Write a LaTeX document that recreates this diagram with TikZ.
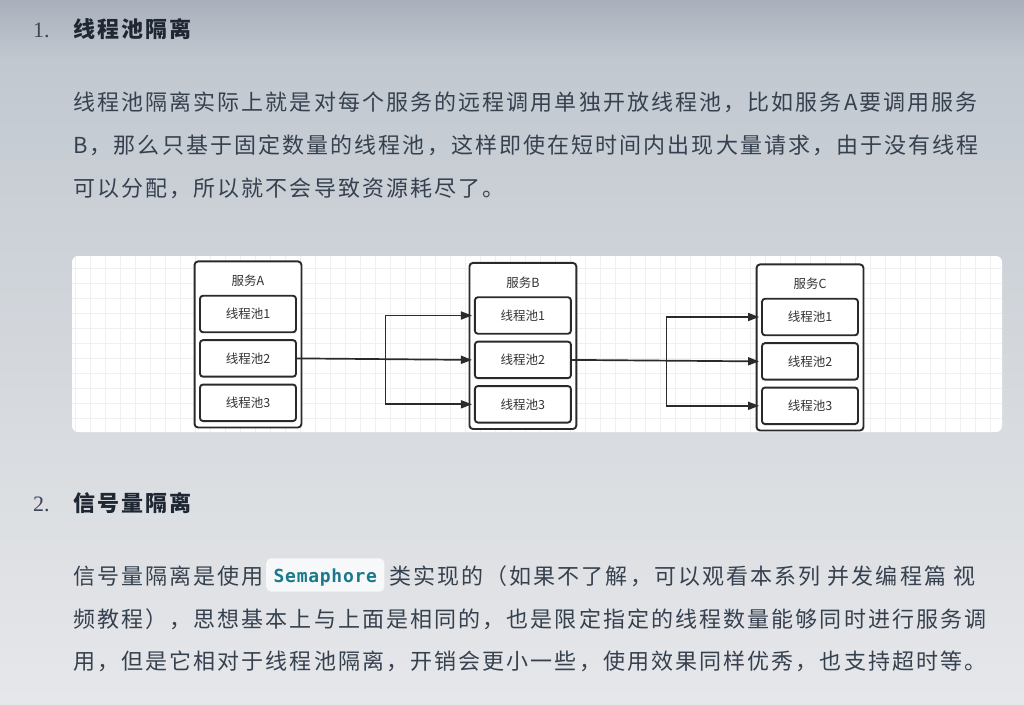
\documentclass[tikz,border=0pt]{standalone}
\usepackage{fontspec}
\setmainfont{Liberation Serif}
\newfontfamily\bodycjk[LetterSpace=9.5]{Noto Sans CJK SC}
\newfontfamily\labelcjk{Noto Sans CJK SC}
\newfontfamily\codefont[LetterSpace=4]{DejaVu Sans Mono}
\usepackage{tikz}
\usetikzlibrary{arrows.meta,positioning,fit,calc}

\definecolor{bgtop}{HTML}{A9B0BB}
\definecolor{bgupper}{HTML}{C2C8D0}
\definecolor{bgmid}{HTML}{CDD2D8}
\definecolor{bglow}{HTML}{D9DCE0}
\definecolor{bgbot}{HTML}{E6E7EA}
\definecolor{bodytext}{HTML}{36414F}
\definecolor{headtext}{HTML}{1F2733}
\definecolor{numtext}{HTML}{3C4654}
\definecolor{codebg}{HTML}{F6F8FA}
\definecolor{codetext}{HTML}{1A7A8C}
\definecolor{gridgray}{HTML}{F0F0F0}
\definecolor{boxline}{HTML}{2A2A2A}
\definecolor{labeltext}{HTML}{333333}

\pgfdeclarelayer{canvas}
\pgfdeclarelayer{frames}
\pgfsetlayers{canvas,frames,main}

\begin{document}
\begin{tikzpicture}[
x=1pt, y=-1pt,
pool/.style={draw=boxline, line width=1.9pt, rounded corners=3pt, fill=white,
  minimum width=96pt, minimum height=36.5pt, inner sep=0pt,
  font=\labelcjk\fontsize{12.5}{14}\selectfont, text=labeltext},
svctitle/.style={minimum width=96pt, minimum height=27.5pt, inner sep=0pt,
  font=\labelcjk\fontsize{12.5}{14}\selectfont, text=labeltext},
svcbox/.style={draw=boxline, line width=1.9pt, rounded corners=3.5pt, fill=white,
  inner xsep=4.5pt, inner ysep=5.5pt},
link/.style={draw=boxline, line width=1.7pt, -{Triangle[length=11pt,width=8pt]}, shorten >=2pt},
gridline/.style={draw=gridgray, line width=0.9pt},
headnum/.style={anchor=base west, inner sep=0pt, text=numtext, font=\fontsize{22}{26}\selectfont},
headline/.style={anchor=base west, inner sep=0pt, text=headtext, font=\bodycjk\bfseries\fontsize{22}{26}\selectfont},
bodyline/.style={anchor=base west, inner sep=0pt, text=bodytext, font=\bodycjk\fontsize{22}{26}\selectfont},
codechip/.style={anchor=base west, fill=codebg, rounded corners=5pt, inner xsep=7.5pt, inner ysep=0pt,
  text height=24.4pt, text depth=9pt, text=codetext, font=\codefont\bfseries\fontsize{18}{20}\selectfont}
]
    \useasboundingbox (0,0) rectangle (1024,704);

    % page background and the white grid panel
    \begin{pgfonlayer}{canvas}
    \shade [top color=bgtop, bottom color=bgupper] (0,0) rectangle (1024,60);
    \shade [top color=bgupper, bottom color=bgmid] (0,60) rectangle (1024,240);
    \shade [top color=bgmid, bottom color=bglow] (0,240) rectangle (1024,450);
    \shade [top color=bglow, bottom color=bgbot] (0,450) rectangle (1024,704);
    \fill [white, rounded corners=6pt] (72,256) rectangle (1002,432);
    \begin{scope}
      \clip [rounded corners=6pt] (72,256) rectangle (1002,432);
      \foreach \gx in {75,90,...,1000}
        \draw [gridline] (\gx,256) -- (\gx,432);
      \foreach \gy in {268,283,...,430}
        \draw [gridline] (72,\gy) -- (1002,\gy);
    \end{scope}
    \end{pgfonlayer}

    % section 1
    \node [headnum] (num1) at (33,37) {1.};
    \node [headline] (head1) at (73,37.5) {线程池隔离};
    \node [bodyline] (p1l1) at (73,110.3) {线程池隔离实际上就是对每个服务的远程调用单独开放线程池，比如服务A要调用服务};
    \node [bodyline] (p1l2) at (73,153.3) {B，那么只基于固定数量的线程池，这样即使在短时间内出现大量请求，由于没有线程};
    \node [bodyline] (p1l3) at (73,196.3) {可以分配，所以就不会导致资源耗尽了。};

    % service A
    \node [pool] (a1) at (248,314) {线程池1};
    \node [pool, below=6pt of a1] (a2) {线程池2};
    \node [pool, below=6pt of a2] (a3) {线程池3};
    \node [svctitle, above=0pt of a1] (atitle) {服务A};

    % service B
    \node [pool] (b1) at (522.9,315.5) {线程池1};
    \node [pool, below=6pt of b1] (b2) {线程池2};
    \node [pool, below=6pt of b2] (b3) {线程池3};
    \node [svctitle, above=0pt of b1] (btitle) {服务B};

    % service C
    \node [pool] (c1) at (810,317) {线程池1};
    \node [pool, below=6pt of c1] (c2) {线程池2};
    \node [pool, below=6pt of c2] (c3) {线程池3};
    \node [svctitle, above=0pt of c1] (ctitle) {服务C};

    \begin{pgfonlayer}{frames}
    \node [svcbox, fit=(atitle)(a1)(a3)] (svcA) {};
    \node [svcbox, fit=(btitle)(b1)(b3)] (svcB) {};
    \node [svcbox, fit=(ctitle)(c1)(c3)] (svcC) {};
    \end{pgfonlayer}

    % calls
    \coordinate (forkab) at ($(a2.east)!0.5!(b2.west)$);
    \coordinate (forkbc) at ($(b2.east)!0.5!(c2.west)$);
    \draw [link] (a2.east) -- (b2.west);
    \draw [link] (forkab) |- (b1.west);
    \draw [link] (forkab) |- (b3.west);
    \draw [link] (b2.east) -- (c2.west);
    \draw [link] (forkbc) |- (c1.west);
    \draw [link] (forkbc) |- (c3.west);

    % section 2
    \node [headnum] (num2) at (33,511) {2.};
    \node [headline] (head2) at (73,511.5) {信号量隔离};
    \node [bodyline] (p2l1a) at (73,584) {信号量隔离是使用};
    \node [codechip] (sema) at (266,582.7) {Semaphore};
    \node [bodyline] (p2l1b) at (389,584) {类实现的（如果不了解，可以观看本系列 并发编程篇 视};
    \node [bodyline] (p2l2) at (73,627) {频教程），思想基本上与上面是相同的，也是限定指定的线程数量能够同时进行服务调};
    \node [bodyline] (p2l3) at (73,669) {用，但是它相对于线程池隔离，开销会更小一些，使用效果同样优秀，也支持超时等。};

\end{tikzpicture}
\end{document}
